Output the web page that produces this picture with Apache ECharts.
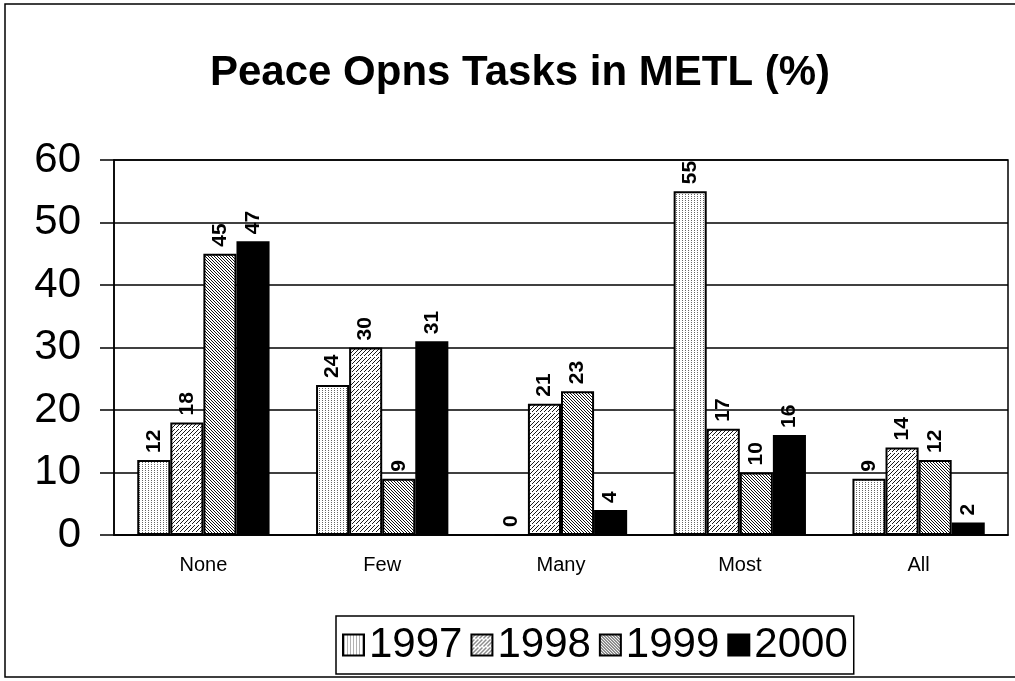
<!DOCTYPE html>
<html>
<head>
<meta charset="utf-8">
<script src="https://cdn.jsdelivr.net/npm/echarts@6/dist/echarts.min.js"></script>
<style>html,body{margin:0;padding:0;background:#fff}#c{width:1015px;height:681px}</style>
</head>
<body>
<div id="c"></div>
<script>
const categories = ['None', 'Few', 'Many', 'Most', 'All'];
const years = ['1997', '1998', '1999', '2000'];
const v1997 = [12, 24, 0, 55, 9];
const v1998 = [18, 30, 21, 17, 14];
const v1999 = [45, 9, 23, 10, 12];
const v2000 = [47, 31, 4, 16, 2];
const yTicks = [0, 10, 20, 30, 40, 50, 60];

function makePattern(w, h, draw) {
  const cv = document.createElement('canvas');
  cv.width = w; cv.height = h;
  const ctx = cv.getContext('2d');
  ctx.fillStyle = '#fff';
  ctx.fillRect(0, 0, w, h);
  draw(ctx);
  return { image: cv, repeat: 'repeat' };
}
const pat1997 = makePattern(3, 2, ctx => {
  ctx.fillStyle = '#666';
  ctx.fillRect(1, 0, 1, 1);
});
const pat1998 = makePattern(8, 8, ctx => {
  ctx.fillStyle = '#1a1a1a';
  for (let i = 0; i < 8; i++) {
    const y = 7 - i;
    if (i !== 3) ctx.fillRect(i, y, 1, 1);
    if (i !== 7) ctx.fillRect(i, (y + 4) % 8, 1, 1);
  }
});
const pat1999 = makePattern(3, 3, ctx => {
  ctx.fillStyle = '#111';
  for (let i = 0; i < 3; i++) ctx.fillRect(i, i, 1, 1);
});
const fills = [pat1997, pat1998, pat1999, '#000'];
const values = [v1997, v1998, v1999, v2000];
const FONT = 'Arial, Liberation Sans, sans-serif';

const chart = echarts.init(document.getElementById('c'), null, { renderer: 'canvas' });
const series = years.map((y, k) => ({
  name: y,
  type: 'bar',
  data: values[k],
  barGap: '0%',
  barCategoryGap: '26%',
  itemStyle: { color: fills[k], borderColor: '#000', borderWidth: 2 },
  label: {
    show: true,
    position: 'top',
    rotate: 90,
    align: 'left',
    verticalAlign: 'middle',
    distance: 7,
    fontFamily: FONT,
    fontWeight: 'bold',
    fontSize: 21,
    color: '#000'
  }
}));

chart.setOption({
  animation: false,
  backgroundColor: '#fff',
  title: {
    text: 'Peace Opns Tasks in METL (%)',
    left: 205,
    top: 47,
    textStyle: { fontFamily: FONT, fontWeight: 'bold', fontSize: 42, color: '#000' }
  },
  graphic: [{
    type: 'rect',
    shape: { x: 5, y: 4, width: 1020, height: 673 },
    style: { fill: null, stroke: '#000', lineWidth: 1.5 },
    z: -1
  }],
  legend: {
    data: years,
    left: 336,
    top: 616,
    icon: 'rect',
    itemWidth: 21,
    itemHeight: 21,
    itemGap: 8,
    padding: [8, 6, 8, 6],
    borderColor: '#000',
    borderWidth: 1.5,
    textStyle: { fontFamily: FONT, fontSize: 42, color: '#000' }
  },
  grid: {
    left: 114, right: 7, top: 160, bottom: 146,
    show: true, borderColor: '#000', borderWidth: 1.5
  },
  xAxis: {
    type: 'category',
    data: categories,
    axisLine: { lineStyle: { color: '#000', width: 1.5 } },
    axisTick: { length: 6, lineStyle: { color: '#000', width: 1.5 } },
    axisLabel: { fontFamily: FONT, fontSize: 20, color: '#000', margin: 20 }
  },
  yAxis: {
    type: 'value',
    min: yTicks[0],
    max: yTicks[yTicks.length - 1],
    interval: yTicks[1] - yTicks[0],
    axisLine: { show: true, lineStyle: { color: '#000', width: 1.5 } },
    axisTick: { show: true, length: 14, lineStyle: { color: '#000', width: 1.5 } },
    axisLabel: { fontFamily: FONT, fontSize: 42, color: '#000', margin: 33 },
    splitLine: { lineStyle: { color: '#000', width: 1.5 } }
  },
  series: series
});
</script>
</body>
</html>
